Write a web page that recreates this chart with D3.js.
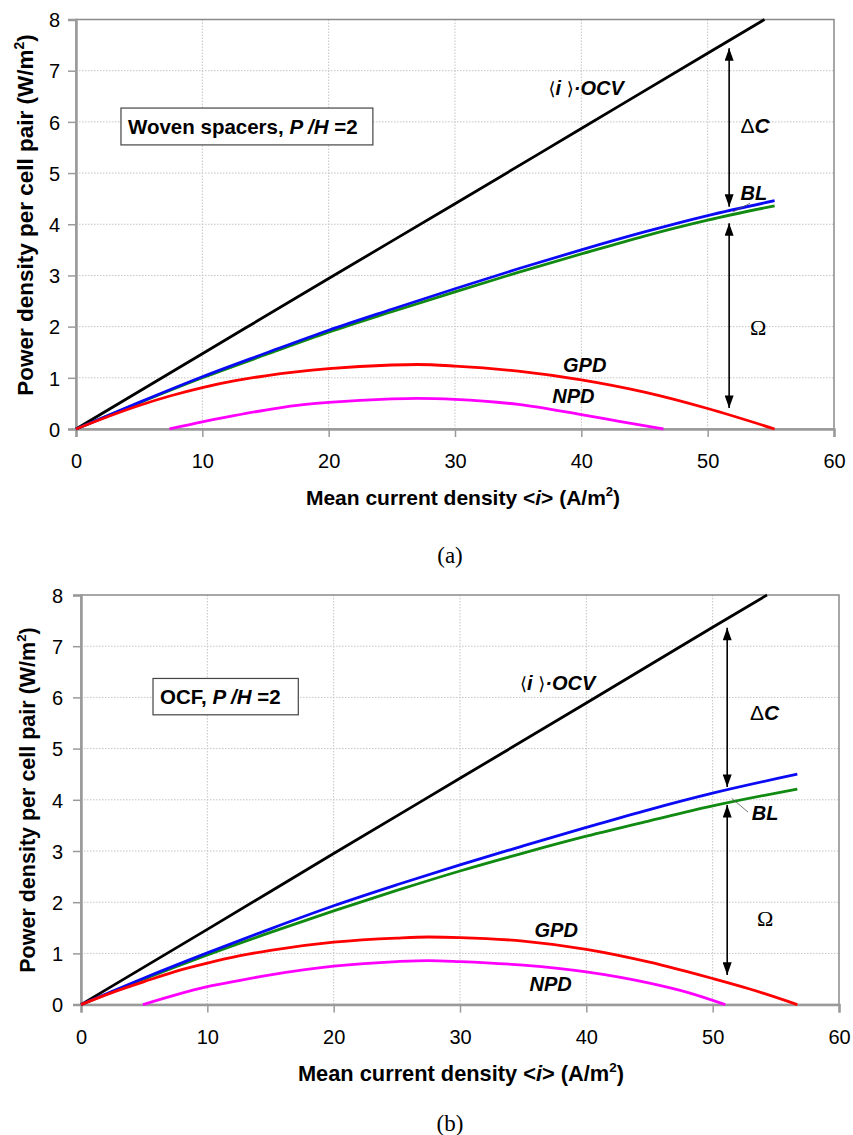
<!DOCTYPE html>
<html>
<head>
<meta charset="utf-8">
<script src="https://cdn.jsdelivr.net/npm/d3@7"></script>
<style>
  html, body { margin: 0; padding: 0; background: #fff; }
  svg { display: block; }
</style>
</head>
<body>
<svg id="fig" width="853" height="1135"></svg>
<script>
// ---- axis ticks ----
const xTicks = [0, 10, 20, 30, 40, 50, 60];
const yTicks = [0, 1, 2, 3, 4, 5, 6, 7, 8];

// ---- panel (a): woven spacers, P/H = 2 ----  [mean current density, power density]
const wovenOCV = [[0, 0], [10, 1.47], [20, 2.94], [30, 4.40], [40, 5.87], [50, 7.34], [54.5, 8.0]];
const wovenBlue = [[0, 0], [5, 0.52], [10, 1.02], [15, 1.48], [20, 1.93], [25, 2.34], [30, 2.74], [35, 3.13], [40, 3.50], [45, 3.85], [50, 4.17], [55.3, 4.46]];
const wovenGreen = [[0, 0], [5, 0.51], [10, 1.0], [15, 1.45], [20, 1.89], [25, 2.29], [30, 2.68], [35, 3.06], [40, 3.42], [45, 3.77], [50, 4.08], [55.3, 4.36]];
const wovenGPD = [[0, 0], [2.5, 0.24], [5, 0.46], [7.5, 0.65], [10, 0.81], [12.5, 0.94], [15, 1.04], [20, 1.18], [25, 1.25], [27, 1.26], [30, 1.23], [35, 1.13], [40, 0.96], [45, 0.72], [50, 0.40], [55.3, 0]];
const wovenNPD = [[7.4, 0], [10, 0.14], [12.5, 0.26], [15, 0.37], [17.5, 0.46], [20, 0.52], [25, 0.59], [27, 0.60], [30, 0.58], [35, 0.48], [40, 0.28], [43, 0.15], [46.5, 0]];

// ---- panel (b): OCF, P/H = 2 ----
const ocfOCV = [[0, 0], [10, 1.47], [20, 2.95], [30, 4.42], [40, 5.89], [50, 7.37], [54.3, 8.0]];
const ocfBlue = [[0, 0], [5, 0.52], [10, 1.01], [15, 1.48], [20, 1.93], [25, 2.34], [30, 2.73], [35, 3.10], [40, 3.46], [45, 3.81], [50, 4.13], [56.7, 4.50]];
const ocfGreen = [[0, 0], [5, 0.50], [10, 0.97], [15, 1.41], [20, 1.83], [25, 2.23], [30, 2.61], [35, 2.96], [40, 3.29], [45, 3.59], [50, 3.88], [56.7, 4.21]];
const ocfGPD = [[0, 0], [2.5, 0.24], [5, 0.45], [7.5, 0.65], [10, 0.81], [12.5, 0.95], [15, 1.06], [20, 1.22], [25, 1.30], [27.5, 1.32], [30, 1.31], [35, 1.24], [40, 1.08], [45, 0.83], [50, 0.51], [53, 0.30], [56.7, 0]];
const ocfNPD = [[4.9, 0], [7.5, 0.19], [10, 0.35], [12.5, 0.47], [15, 0.58], [20, 0.75], [25, 0.84], [27.5, 0.86], [30, 0.84], [35, 0.77], [40, 0.64], [45, 0.42], [48, 0.24], [51, 0]];

const seriesColors = { ocv: "#000000", blue: "#0a0af5", green: "#108a10", gpd: "#ff0000", npd: "#ff00ff" };

const SANS = "'Liberation Sans', Arial, sans-serif";
const SERIF = "'Liberation Serif', 'Times New Roman', serif";
const SYMBOL = "'DejaVu Sans', sans-serif";

const panels = [
  {
    box: { left: 76, top: 19.5, right: 834, bottom: 429 },
    series: [
      { data: wovenOCV, color: seriesColors.ocv },
      { data: wovenGreen, color: seriesColors.green },
      { data: wovenBlue, color: seriesColors.blue },
      { data: wovenGPD, color: seriesColors.gpd },
      { data: wovenNPD, color: seriesColors.npd }
    ],
    legend: { x0: 3.56, x1: 23.5, y0: 6.27, y1: 5.55, parts: [["Woven spacers, ", false], ["P", true], [" /", true], ["H", true], [" =2", false]] },
    ocvLabel: [37.4, 6.52],
    deltaLabel: [52.6, 5.78],
    blLabel: [52.6, 4.47],
    blLeader: [[53.35, 4.41], [52.0, 4.24]],
    omegaLabel: [53.35, 1.84],
    gpdLabel: [38.55, 1.11],
    npdLabel: [37.7, 0.51],
    arrowX: 51.7,
    arrowDC: [7.44, 4.34],
    arrowOmega: [4.02, 0.41],
    yTitle: { x: 33, y: 215, size: 22.5 },
    xTitle: { x: 463, y: 505, size: 21 },
    tickGap: 16,
    caption: { text: "(a)", x: 450, y: 563 }
  },
  {
    box: { left: 81, top: 595, right: 839, bottom: 1004.6 },
    series: [
      { data: ocfOCV, color: seriesColors.ocv },
      { data: ocfGreen, color: seriesColors.green },
      { data: ocfBlue, color: seriesColors.blue },
      { data: ocfGPD, color: seriesColors.gpd },
      { data: ocfNPD, color: seriesColors.npd }
    ],
    legend: { x0: 5.7, x1: 17.2, y0: 6.37, y1: 5.66, parts: [["OCF, ", false], ["P", true], [" /", true], ["H", true], [" =2", false]] },
    ocvLabel: [34.75, 6.14],
    deltaLabel: [52.96, 5.56],
    blLabel: [53.1, 3.6],
    blLeader: [[52.8, 3.76], [51.5, 4.03]],
    omegaLabel: [53.5, 1.53],
    gpdLabel: [35.9, 1.32],
    npdLabel: [35.5, 0.27],
    arrowX: 51.15,
    arrowDC: [7.36, 4.25],
    arrowOmega: [3.9, 0.58],
    yTitle: { x: 35, y: 800, size: 21.5 },
    xTitle: { x: 461, y: 1081, size: 21.8 },
    tickGap: 18,
    caption: { text: "(b)", x: 450, y: 1131 }
  }
];

const svg = d3.select("#fig");
svg.append("rect").attr("width", 853).attr("height", 1135).attr("fill", "#fff");

const defs = svg.append("defs");
defs.append("marker")
  .attr("id", "head")
  .attr("viewBox", "0 0 14 10")
  .attr("refX", 14).attr("refY", 5)
  .attr("markerWidth", 13).attr("markerHeight", 9)
  .attr("markerUnits", "userSpaceOnUse")
  .attr("orient", "auto-start-reverse")
  .append("path").attr("d", "M0,0 L14,5 L0,10 Z").attr("fill", "#000");

function txt(sel, family) {
  return sel.style("font-family", family || SANS).attr("fill", "#000");
}

function drawPanel(p) {
  const b = p.box;
  const x = d3.scaleLinear().domain([0, 60]).range([b.left, b.right]);
  const y = d3.scaleLinear().domain([0, 8]).range([b.bottom, b.top]);
  const g = svg.append("g");

  // dotted grid
  g.append("g").selectAll("line").data(xTicks.slice(1, -1)).join("line")
    .attr("x1", d => x(d)).attr("x2", d => x(d))
    .attr("y1", b.top).attr("y2", b.bottom)
    .attr("stroke", "#c4c4c4").attr("stroke-width", 1).attr("stroke-dasharray", "1.5,1.5");
  g.append("g").selectAll("line").data(yTicks.slice(1, -1)).join("line")
    .attr("x1", b.left).attr("x2", b.right)
    .attr("y1", d => y(d)).attr("y2", d => y(d))
    .attr("stroke", "#c4c4c4").attr("stroke-width", 1).attr("stroke-dasharray", "1.5,1.5");

  // frame
  g.append("rect")
    .attr("x", b.left).attr("y", b.top)
    .attr("width", b.right - b.left).attr("height", b.bottom - b.top)
    .attr("fill", "none").attr("stroke", "#8a8a8a").attr("stroke-width", 1.5);

  // axes
  const xAxis = d3.axisBottom(x).tickValues(xTicks).tickSize(8).tickPadding(20).tickFormat(d3.format("d"));
  const yAxis = d3.axisLeft(y).tickValues(yTicks).tickSize(8).tickPadding(p.tickGap - 8).tickFormat(d3.format("d"));
  const gx = g.append("g").attr("transform", `translate(0,${b.bottom})`).call(xAxis);
  const gy = g.append("g").attr("transform", `translate(${b.left},0)`).call(yAxis);
  [gx, gy].forEach(a => {
    a.attr("font-family", null).attr("font-size", null);
    a.select(".domain").attr("stroke", "#9a9a9a").attr("stroke-width", 2.5);
    a.selectAll(".tick line").attr("stroke", "#9a9a9a").attr("stroke-width", 1.5);
    txt(a.selectAll(".tick text")).attr("font-size", 20);
  });
  gx.selectAll(".tick text").attr("dy", null).attr("y", 39);
  gy.selectAll(".tick text").attr("dy", "0.36em");

  // curves
  const line = d3.line().x(d => x(d[0])).y(d => y(d[1])).curve(d3.curveMonotoneX);
  g.append("g").selectAll("path").data(p.series).join("path")
    .attr("d", s => line(s.data))
    .attr("fill", "none")
    .attr("stroke", s => s.color)
    .attr("stroke-width", 2.8)
    .attr("stroke-linejoin", "round");

  // double-headed arrows
  [p.arrowDC, p.arrowOmega].forEach(r => {
    g.append("line")
      .attr("x1", x(p.arrowX)).attr("x2", x(p.arrowX))
      .attr("y1", y(r[0])).attr("y2", y(r[1]))
      .attr("stroke", "#000").attr("stroke-width", 1.6)
      .attr("marker-start", "url(#head)").attr("marker-end", "url(#head)");
  });

  // BL leader
  g.append("line")
    .attr("x1", x(p.blLeader[0][0])).attr("y1", y(p.blLeader[0][1]))
    .attr("x2", x(p.blLeader[1][0])).attr("y2", y(p.blLeader[1][1]))
    .attr("stroke", "#555").attr("stroke-width", 0.8);

  const biStyle = t => txt(t).attr("font-weight", "bold").attr("font-style", "italic").attr("font-size", 20);

  // <i>·OCV label
  const ocv = txt(g.append("text")).attr("x", x(p.ocvLabel[0])).attr("y", y(p.ocvLabel[1])).attr("font-size", 20);
  ocv.append("tspan").text("\u27E8").style("font-family", SYMBOL).attr("font-size", 18);
  ocv.append("tspan").text("i").attr("font-weight", "bold").attr("font-style", "italic");
  ocv.append("tspan").text(" \u27E9").style("font-family", SYMBOL).attr("font-size", 18);
  ocv.append("tspan").text("\u00B7OCV").attr("font-weight", "bold").attr("font-style", "italic");

  // ΔC
  const dc = txt(g.append("text")).attr("x", x(p.deltaLabel[0])).attr("y", y(p.deltaLabel[1])).attr("font-size", 21);
  dc.append("tspan").text("\u0394");
  dc.append("tspan").text("C").attr("font-weight", "bold").attr("font-style", "italic");

  biStyle(g.append("text").attr("x", x(p.blLabel[0])).attr("y", y(p.blLabel[1])).text("BL"));
  biStyle(g.append("text").attr("x", x(p.gpdLabel[0])).attr("y", y(p.gpdLabel[1])).text("GPD"));
  biStyle(g.append("text").attr("x", x(p.npdLabel[0])).attr("y", y(p.npdLabel[1])).text("NPD"));

  txt(g.append("text"), SERIF).attr("x", x(p.omegaLabel[0])).attr("y", y(p.omegaLabel[1]))
    .attr("font-size", 22).text("\u03A9");

  // case label box
  const L = p.legend;
  g.append("rect")
    .attr("x", x(L.x0)).attr("y", y(L.y0))
    .attr("width", x(L.x1) - x(L.x0)).attr("height", y(L.y1) - y(L.y0))
    .attr("fill", "#fff").attr("stroke", "#444").attr("stroke-width", 1.2);
  const lt = txt(g.append("text"))
    .attr("x", x(L.x0) + 7).attr("y", (y(L.y0) + y(L.y1)) / 2 + 7.5)
    .attr("font-weight", "bold").attr("font-size", 20.5);
  L.parts.forEach(([t, it]) => {
    const ts = lt.append("tspan").text(t);
    if (it) ts.attr("font-style", "italic");
  });

  // axis titles
  const yt = txt(g.append("text"))
    .attr("transform", `translate(${p.yTitle.x},${p.yTitle.y}) rotate(-90)`)
    .attr("text-anchor", "middle").attr("font-weight", "bold").attr("font-size", p.yTitle.size);
  yt.append("tspan").text("Power density per cell pair (W/m");
  yt.append("tspan").text("2").attr("font-size", p.yTitle.size * 0.62).attr("dy", -9);
  yt.append("tspan").text(")").attr("dy", 9);

  const xt = txt(g.append("text"))
    .attr("x", p.xTitle.x).attr("y", p.xTitle.y)
    .attr("text-anchor", "middle").attr("font-weight", "bold").attr("font-size", p.xTitle.size);
  xt.append("tspan").text("Mean current density <");
  xt.append("tspan").text("i").attr("font-style", "italic");
  xt.append("tspan").text("> (A/m");
  xt.append("tspan").text("2").attr("font-size", p.xTitle.size * 0.62).attr("dy", -9);
  xt.append("tspan").text(")").attr("dy", 9);

  txt(svg.append("text"), SERIF)
    .attr("x", p.caption.x).attr("y", p.caption.y)
    .attr("text-anchor", "middle")
    .attr("font-size", 23).text(p.caption.text);
}

panels.forEach(drawPanel);
</script>
</body>
</html>
